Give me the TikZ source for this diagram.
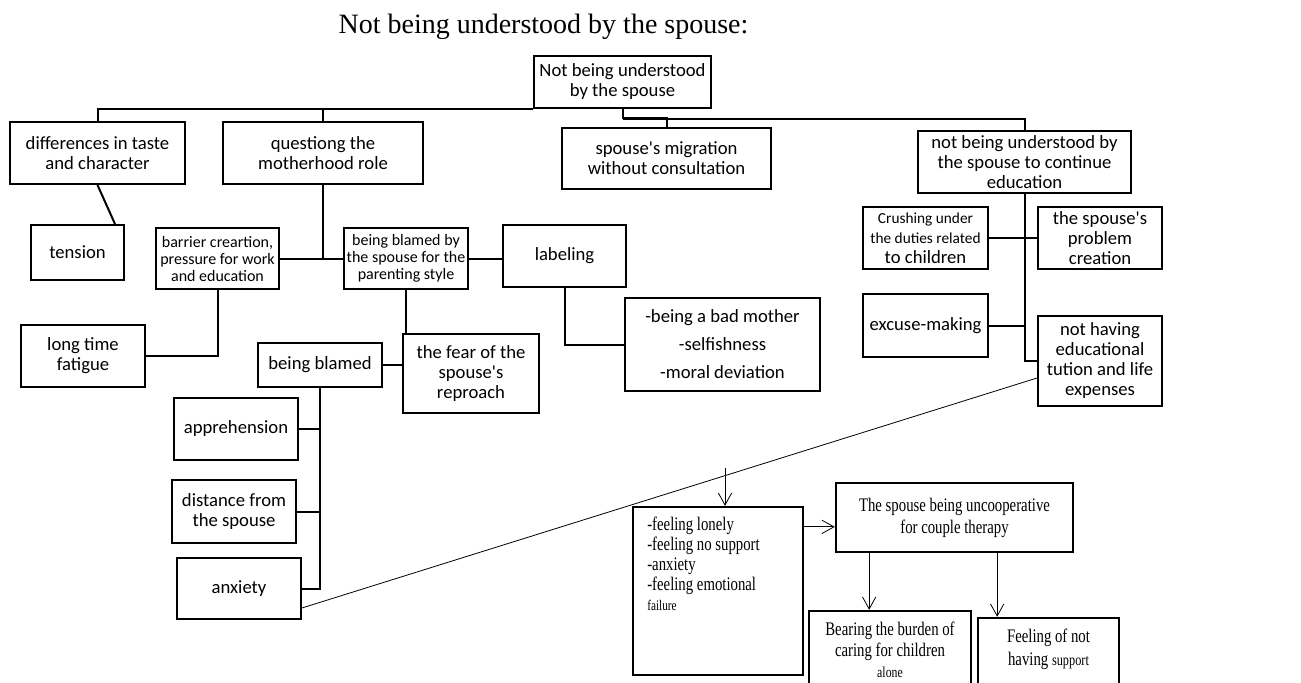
\documentclass[tikz,border=0pt]{standalone}
\usepackage{fontspec}
\setmainfont{Carlito}[Ligatures=TeXOff]
\newfontfamily\tnr{Liberation Serif}
\newfontfamily\cond[FakeStretch=0.77]{Liberation Serif}
\usetikzlibrary{arrows.meta}
\tikzset{
  box/.style={draw, line width=1.5pt, align=center, inner sep=1pt, font=\fontsize{14}{15}\selectfont},
  sz/.style 2 args={minimum width=#1*0.75pt, minimum height=#2*0.75pt},
  small/.style={font=\fontsize{12}{12.75}\selectfont},
  conn/.style={line width=1.5pt},
  thin/.style={line width=0.6pt},
  arr/.style={line width=0.6pt, -{Straight Barb[length=9pt,width=10pt,line width=0.6pt]}},
  sbox/.style={draw, line width=1.8pt},
  stext/.style={align=center, inner sep=0pt, font=\cond\fontsize{14.4}{17}\selectfont}
}
\newcommand{\smallish}{\fontsize{11.5}{13}\selectfont}
\begin{document}
\begin{tikzpicture}[x=0.75pt,y=-0.75pt]
\useasboundingbox (0,0) rectangle (1301,682);
\clip (0,0) rectangle (1301,682);
% title
\node[anchor=base, inner sep=0pt, font=\tnr\fontsize{21}{25}\selectfont] (title) at (543.5,33) {Not being understood by the spouse:};
% level 0
\node[box, sz={177}{52}, font=\fontsize{14}{15}\selectfont] (root) at (622.5,82) {Not being understood\\by the spouse};
% level 1
\node[box, sz={175}{62}] (diff) at (97.5,153) {differences in taste\\and character};
\node[box, sz={200}{62}] (quest) at (323,153) {questiong the\\motherhood role};
\node[box, sz={209}{61}] (migr) at (666.5,158.5) {spouse's migration\\without consultation};
\node[box, sz={213}{62}] (edu) at (1024.5,162) {not being understood by\\the spouse to continue\\education};
% left subtree
\node[box, sz={93}{55}] (tension) at (77.5,252.5) {tension};
\node[box, sz={123}{61}, small] (barrier) at (217.5,258.5) {barrier creartion,\\pressure for work\\and education};
\node[box, sz={124}{61}, small] (blamesp) at (406,258.5) {being blamed by\\the spouse for the\\parenting style};
\node[box, sz={123}{62}] (labeling) at (564.5,256) {labeling};
\node[box, sz={195}{93}, font=\fontsize{14}{21}\selectfont] (labellist) at (722.5,344.5) {-being a bad mother\\-selfishness\\-moral deviation};
\node[box, sz={136}{79}] (fear) at (471,373.5) {the fear of the\\spouse's\\reproach};
\node[box, sz={124}{44}] (blamed) at (320,365) {being blamed};
\node[box, sz={124}{62}] (fatigue) at (83,356) {long time\\fatigue};
\node[box, sz={124}{62}] (appre) at (236,429) {apprehension};
\node[box, sz={124}{63}] (distance) at (234,511.5) {distance from\\the spouse};
\node[box, sz={124}{61}] (anxiety) at (239,588.5) {anxiety};
% right subtree
\node[box, sz={125}{62}] (crushing) at (925.5,238) {{\smallish Crushing under}\\{\smallish the duties related}\\to children};
\node[box, sz={124}{62}] (problem) at (1100,238) {the spouse's\\problem\\creation};
\node[box, sz={125}{63}] (excuse) at (925.5,325.5) {excuse-making};
\node[box, sz={124}{90}] (nothaving) at (1100,361) {not having\\educational\\tution and life\\expenses};
% bottom part
\node[sbox, sz={170}{168}] (feelings) at (718,591) {};
\node[anchor=north west, align=left, inner sep=0pt, font=\cond\fontsize{14.4}{15}\selectfont] (feeltext) at (647,517) {-feeling lonely\\-feeling no support\\-anxiety\\-feeling emotional\\{\fontsize{11}{12}\selectfont failure}};
\node[sbox, sz={237}{69}, stext, font=\cond\fontsize{14.4}{16.5}\selectfont] (uncoop) at (954.5,517.5) {The spouse being uncooperative\\for couple therapy};
\node[sbox, sz={162}{100}] (bearing) at (890,661) {};
\node[stext, anchor=north, font=\cond\fontsize{14.4}{15.5}\selectfont] (bearingtext) at (890,622) {Bearing the burden of\\caring for children\\{\fontsize{11.5}{13}\selectfont alone}};
\node[sbox, sz={141}{100}] (feelnot) at (1048.5,668) {};
\node[stext, anchor=north] (feelnottext) at (1048.5,629) {Feeling of not\\having {\fontsize{12}{17}\selectfont support}};
\coordinate (fin) at (725,468);
% connectors level 1
\draw[conn] (diff.north) |- (root.south west);
\draw[conn] (quest.north) -- (quest.north |- root.south);
\draw[conn] (root.south) -- ++(0,9) -| (migr.north);
\draw[conn] (root.south) ++(0,10) -| (edu.north);
% left subtree connectors
\draw[conn] (diff.south) -- ([xshift=-7.5pt]tension.north east);
\draw[conn] (quest.south) |- (barrier.east);
\draw[conn] (quest.south) |- (blamesp.west);
\draw[conn] (blamesp.east) -- (blamesp.east -| labeling.west);
\draw[conn] (labeling.south) |- (labellist.west);
\draw[conn] (blamesp.south) -- (blamesp.south |- fear.north);
\draw[conn] (blamed.east) -- (blamed.east -| fear.west);
\draw[conn] (barrier.south) |- (fatigue.east);
\draw[conn] (blamed.south) |- (appre.east);
\draw[conn] (blamed.south) |- (distance.east);
\draw[conn] (blamed.south) |- (anxiety.east);
% right subtree connectors
\draw[conn] (edu.south) |- (nothaving.west);
\draw[conn] (crushing.east) -- (problem.west);
\draw[conn] (excuse.east) -- (excuse.east -| edu.south);
% thin link
\draw[thin] ([yshift=-12.75pt]nothaving.west) -- ([yshift=-14.6pt]anxiety.east);
% arrows
\draw[arr] (fin) -- (fin |- feelings.north);
\draw[arr] ([yshift=-7pt]uncoop.west -| feelings.east) -- ([yshift=-7pt]uncoop.west);
\draw[arr] ([xshift=-64pt]uncoop.south) -- ([xshift=-64pt]uncoop.south |- bearing.north);
\draw[arr] ([xshift=32pt]uncoop.south) -- ([xshift=32pt]uncoop.south |- feelnot.north);
\end{tikzpicture}
\end{document}
